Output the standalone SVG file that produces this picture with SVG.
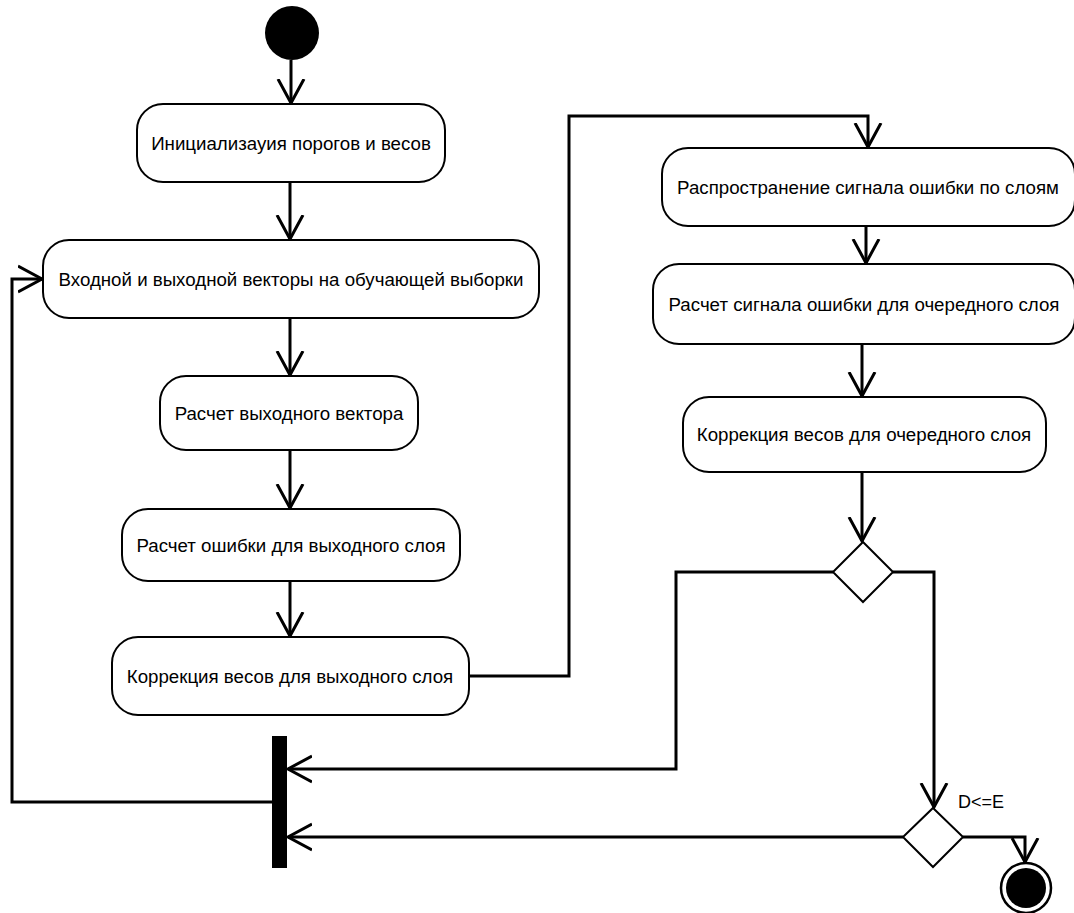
<svg xmlns="http://www.w3.org/2000/svg" width="1074" height="913" viewBox="0 0 1074 913">
<defs>
<marker id="arr" viewBox="0 0 30 30" refX="24" refY="15" markerWidth="30" markerHeight="30" markerUnits="userSpaceOnUse" orient="auto">
<path d="M0,2 L24,15 L0,28" fill="none" stroke="#000" stroke-width="3"/>
</marker>
</defs>
<style>
.box{fill:#fff;stroke:#000;stroke-width:2}
.t{font-family:"Liberation Sans",Arial,sans-serif;font-size:18.7px;fill:#000;text-anchor:middle}
.c{fill:none;stroke:#000;stroke-width:3}
.ca{fill:none;stroke:#000;stroke-width:3;marker-end:url(#arr)}
.dia{fill:#fff;stroke:#000;stroke-width:2}
</style>
<rect width="1074" height="913" fill="#fff"/>
<g id="connectors">
<path class="ca" d="M291,60 L291,103"/>
<path class="ca" d="M290,182 L290,239"/>
<path class="ca" d="M290,318 L290,375"/>
<path class="ca" d="M290,450 L290,508"/>
<path class="ca" d="M290,581 L290,636"/>
<path class="ca" d="M469,676 L569,676 L569,116 L868,116 L868,147"/>
<path class="ca" d="M866,226 L866,263"/>
<path class="ca" d="M862,344 L862,396"/>
<path class="ca" d="M862,472 L862,541"/>
<path class="ca" d="M833,572 L676,572 L676,769 L288,769"/>
<path class="ca" d="M893,572 L934,572 L934,807"/>
<path class="ca" d="M903,837 L288,837"/>
<path class="ca" d="M963,837 L1025,837 L1025,862"/>
<path class="ca" d="M272,802 L12,802 L12,279 L42,279"/>
</g>
<g id="start"><circle cx="292" cy="33" r="27" fill="#000"/></g>
<g id="n1"><rect class="box" x="137" y="104" width="308" height="78" rx="26"/><text class="t" x="291" y="150">Инициализауия порогов и весов</text></g>
<g id="n2"><rect class="box" x="43" y="240" width="496" height="78" rx="26"/><text class="t" x="291" y="286">Входной и выходной векторы на обучающей выборки</text></g>
<g id="n3"><rect class="box" x="160" y="376" width="258" height="74" rx="26"/><text class="t" x="289" y="420">Расчет выходного вектора</text></g>
<g id="n4"><rect class="box" x="122" y="509" width="338" height="72" rx="26"/><text class="t" x="291" y="552">Расчет ошибки для выходного слоя</text></g>
<g id="n5"><rect class="box" x="112" y="637" width="357" height="78" rx="26"/><text class="t" x="290" y="683">Коррекция весов для выходного слоя</text></g>
<g id="n6"><rect class="box" x="662" y="148" width="413" height="78" rx="26"/><text class="t" x="868" y="194">Распространение сигнала ошибки по слоям</text></g>
<g id="n7"><rect class="box" x="653" y="264" width="422" height="80" rx="26"/><text class="t" x="864" y="311">Расчет сигнала ошибки для очередного слоя</text></g>
<g id="n8"><rect class="box" x="683" y="397" width="363" height="75" rx="26"/><text class="t" x="864" y="441">Коррекция весов для очередного слоя</text></g>
<g id="d1"><path class="dia" d="M863,542 L893,572 L863,602 L833,572 Z"/></g>
<g id="d2"><path class="dia" d="M933,808 L963,837 L933,867 L903,837 Z"/><text class="t" x="958" y="808" style="font-size:18px;text-anchor:start">D&lt;=E</text></g>
<g id="bar"><rect x="272" y="736" width="15" height="132" fill="#000"/></g>
<g id="end"><circle cx="1026" cy="888" r="25" fill="#fff" stroke="#000" stroke-width="2.5"/><circle cx="1026" cy="888" r="20" fill="#000"/></g>
</svg>
